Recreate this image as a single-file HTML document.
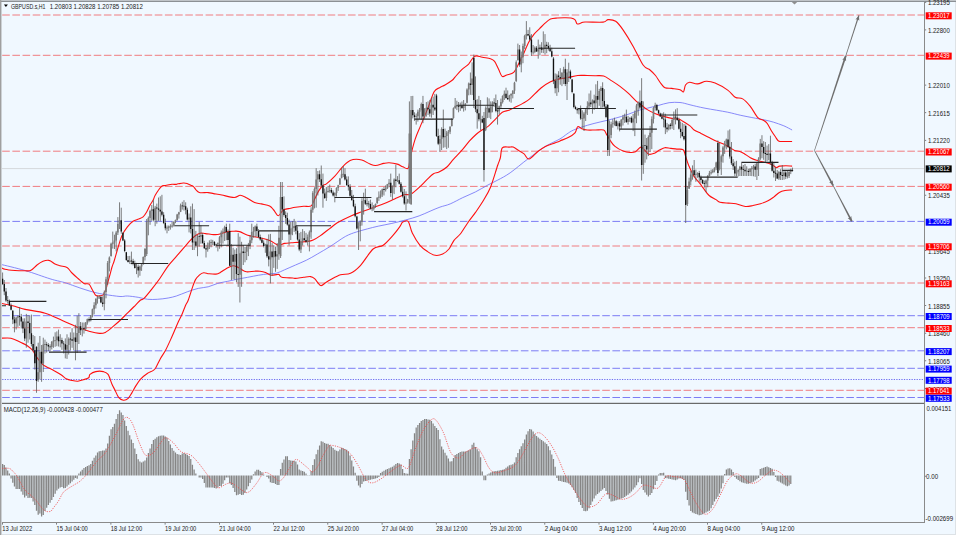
<!DOCTYPE html><html><head><meta charset="utf-8"><title>GBPUSD.s,H1</title><style>html,body{margin:0;padding:0;background:#f0f8ff;overflow:hidden;width:956px;height:535px}</style></head><body><svg width="956" height="535" viewBox="0 0 956 535" style="display:block"><rect x="0" y="0" width="956" height="535" fill="#f0f8ff"/><rect x="0" y="0" width="956" height="1" fill="#c0c4c8"/><rect x="0" y="1" width="956" height="1" fill="#8c9094"/><rect x="0" y="0" width="1.3" height="535" fill="#a0a0a0"/><rect x="1.3" y="2" width="0.7" height="533" fill="#c8ccd0"/><defs><clipPath id="cm"><rect x="2" y="2" width="922" height="400"/></clipPath><clipPath id="cd"><rect x="2" y="404" width="922" height="118"/></clipPath></defs><g clip-path="url(#cm)"><line x1="2.2" y1="15.0" x2="924" y2="15.0" stroke="#f07c80" stroke-width="1" stroke-dasharray="7.6 2.57"/><line x1="2.2" y1="55.3" x2="924" y2="55.3" stroke="#f07c80" stroke-width="1" stroke-dasharray="7.6 2.57"/><line x1="2.2" y1="151.2" x2="924" y2="151.2" stroke="#f07c80" stroke-width="1" stroke-dasharray="7.6 2.57"/><line x1="2.2" y1="186.4" x2="924" y2="186.4" stroke="#f07c80" stroke-width="1" stroke-dasharray="7.6 2.57"/><line x1="2.2" y1="246.0" x2="924" y2="246.0" stroke="#f07c80" stroke-width="1" stroke-dasharray="7.6 2.57"/><line x1="2.2" y1="283.0" x2="924" y2="283.0" stroke="#f07c80" stroke-width="1" stroke-dasharray="7.6 2.57"/><line x1="2.2" y1="327.7" x2="924" y2="327.7" stroke="#f07c80" stroke-width="1" stroke-dasharray="7.6 2.57"/><line x1="2.2" y1="390.3" x2="924" y2="390.3" stroke="#f07c80" stroke-width="1" stroke-dasharray="7.6 2.57"/><line x1="2.2" y1="221.4" x2="924" y2="221.4" stroke="#7c7cf4" stroke-width="1" stroke-dasharray="7.6 2.57"/><line x1="2.2" y1="315.7" x2="924" y2="315.7" stroke="#7c7cf4" stroke-width="1" stroke-dasharray="7.6 2.57"/><line x1="2.2" y1="350.8" x2="924" y2="350.8" stroke="#7c7cf4" stroke-width="1" stroke-dasharray="7.6 2.57"/><line x1="2.2" y1="368.3" x2="924" y2="368.3" stroke="#7c7cf4" stroke-width="1" stroke-dasharray="7.6 2.57"/><line x1="2.2" y1="397.5" x2="924" y2="397.5" stroke="#7c7cf4" stroke-width="1" stroke-dasharray="7.6 2.57"/><line x1="2.2" y1="379.5" x2="924" y2="379.5" stroke="#7070f0" stroke-width="1" stroke-dasharray="1.27 1.27"/><line x1="2" y1="168.6" x2="924" y2="168.6" stroke="#d4d8dc" stroke-width="1"/><path d="M0.0,264.2 C4.2,265.2 16.7,268.1 25.0,270.5 C33.3,272.9 43.8,276.9 50.0,278.8 C56.2,280.7 59.8,281.3 62.5,282.0 C65.2,282.7 64.4,282.5 66.5,283.2 C68.6,283.9 71.9,285.1 75.0,286.2 C78.1,287.3 81.7,288.6 85.0,289.6 C88.3,290.7 91.7,291.7 95.0,292.5 C98.3,293.3 100.8,293.8 105.0,294.5 C109.2,295.2 116.3,296.2 120.0,296.5 C123.7,296.8 124.3,295.9 127.3,296.0 C130.3,296.1 134.8,296.8 138.2,297.3 C141.6,297.9 144.5,299.0 147.7,299.3 C150.9,299.6 153.9,299.5 157.3,299.3 C160.7,299.1 165.0,298.6 168.2,298.0 C171.4,297.4 173.2,297.0 176.4,296.0 C179.6,295.0 183.7,293.1 187.3,291.8 C190.9,290.5 194.7,289.2 198.2,288.4 C201.7,287.6 204.9,287.6 208.2,286.8 C211.4,286.0 214.5,284.3 217.7,283.4 C220.9,282.5 224.1,282.1 227.3,281.4 C230.5,280.7 233.4,280.0 236.8,279.3 C240.2,278.6 244.0,278.0 247.7,277.3 C251.3,276.6 255.3,275.8 258.7,275.2 C262.1,274.6 265.2,274.2 268.2,273.9 C271.1,273.6 273.7,273.9 276.4,273.2 C279.1,272.5 281.4,271.2 284.6,269.8 C287.8,268.4 291.9,266.6 295.5,265.0 C299.1,263.4 302.8,262.0 306.4,260.2 C310.0,258.4 313.4,256.4 317.3,254.1 C321.2,251.8 325.3,249.5 330.0,246.6 C334.7,243.7 341.1,238.8 345.5,236.4 C349.9,234.0 352.8,233.2 356.4,232.0 C360.0,230.8 363.7,229.9 367.3,228.9 C370.9,227.9 374.1,227.1 378.2,226.2 C382.3,225.3 387.3,224.4 391.9,223.4 C396.4,222.4 401.0,221.2 405.5,220.0 C410.0,218.8 415.0,217.4 419.1,215.9 C423.2,214.4 426.6,212.7 430.1,211.2 C433.6,209.7 436.6,208.3 440.0,207.1 C443.4,205.9 446.4,205.5 450.2,203.9 C454.0,202.3 458.6,199.6 462.8,197.6 C467.0,195.6 471.1,194.1 475.3,192.0 C479.5,189.9 484.1,187.0 487.9,185.0 C491.7,183.0 494.2,182.0 497.9,180.0 C501.6,178.0 505.2,176.3 510.2,172.8 C515.2,169.3 521.9,163.4 527.8,159.0 C533.7,154.6 540.0,149.8 545.4,146.4 C550.8,143.1 556.4,141.0 560.0,138.9 C563.6,136.8 564.5,135.6 566.8,134.1 C569.1,132.6 570.2,131.5 573.6,130.0 C577.0,128.5 582.8,126.7 587.3,125.3 C591.8,123.9 596.3,122.9 600.9,121.8 C605.5,120.7 610.0,119.7 614.6,118.4 C619.2,117.2 624.1,115.7 628.2,114.3 C632.3,112.9 635.9,111.2 639.1,110.2 C642.3,109.2 644.1,109.0 647.3,108.2 C650.5,107.4 654.6,106.4 658.2,105.5 C661.8,104.6 665.5,103.2 669.1,102.7 C672.7,102.2 676.5,102.2 680.0,102.5 C683.5,102.8 685.8,103.8 690.0,104.8 C694.2,105.8 698.7,107.0 705.0,108.2 C711.3,109.4 721.8,111.0 727.7,112.2 C733.6,113.4 735.6,114.2 740.2,115.2 C744.8,116.2 751.2,117.4 755.3,118.2 C759.4,119.0 761.9,119.3 764.9,120.0 C767.9,120.7 770.1,121.1 773.3,122.1 C776.4,123.1 780.7,124.5 783.8,125.8 C786.9,127.1 790.7,129.3 792.1,130.0" fill="none" stroke="#6c6cf8" stroke-width="0.8"/><path d="M0.0,266.9 C0.8,267.3 2.5,268.6 5.0,269.2 C7.5,269.8 11.7,270.2 15.0,270.5 C18.3,270.8 22.3,270.8 25.0,270.8 C27.7,270.8 29.0,271.3 31.0,270.3 C33.0,269.3 35.0,266.5 37.0,265.0 C39.0,263.5 41.0,262.1 43.0,261.3 C45.0,260.5 47.0,259.9 49.0,260.4 C51.0,260.8 53.2,263.1 55.0,264.0 C56.8,264.9 58.0,265.2 60.0,265.8 C62.0,266.4 65.0,266.3 67.0,267.5 C69.0,268.7 70.2,271.2 72.0,273.0 C73.8,274.8 76.3,277.0 78.0,278.5 C79.7,280.0 80.9,281.1 82.0,282.0 C83.1,282.9 83.3,283.4 84.5,283.8 C85.7,284.2 87.6,283.0 89.0,284.2 C90.4,285.4 91.8,289.1 93.0,291.0 C94.2,292.9 94.8,294.7 96.0,295.5 C97.2,296.3 98.8,296.0 100.0,295.8 C101.2,295.6 102.5,295.6 103.5,294.5 C104.5,293.4 105.3,290.9 106.0,289.0 C106.7,287.1 106.8,285.8 107.5,283.4 C108.2,281.0 109.2,277.2 110.0,274.5 C110.8,271.8 111.3,269.3 112.0,267.0 C112.7,264.7 113.2,264.0 114.3,260.5 C115.4,257.0 117.2,250.1 118.5,246.0 C119.8,241.9 120.3,239.1 121.8,235.9 C123.3,232.7 125.5,229.3 127.4,226.9 C129.3,224.5 131.1,222.6 133.0,221.3 C134.9,220.0 136.9,219.8 138.6,219.1 C140.3,218.3 141.8,217.9 143.1,216.8 C144.4,215.7 145.4,214.2 146.5,212.3 C147.6,210.4 148.7,207.7 149.8,205.6 C150.9,203.5 152.3,201.7 153.2,200.0 C154.1,198.3 153.9,197.4 155.2,195.2 C156.5,193.0 159.4,188.4 161.1,186.8 C162.8,185.2 163.5,185.9 165.3,185.5 C167.1,185.1 170.3,184.5 172.0,184.3 C173.7,184.1 174.7,184.5 175.7,184.4 C176.7,184.3 176.7,184.0 178.0,183.8 C179.3,183.6 181.9,183.1 183.4,183.0 C184.9,182.9 185.8,183.1 187.0,183.5 C188.2,183.9 189.7,184.7 190.8,185.2 C191.9,185.7 192.6,185.8 193.5,186.6 C194.4,187.4 195.0,188.8 196.0,189.8 C197.0,190.8 197.3,192.0 199.3,192.5 C201.3,193.0 205.8,192.4 208.2,192.6 C210.6,192.8 211.3,193.2 213.6,193.6 C215.9,194.0 218.4,194.3 221.8,195.0 C225.2,195.7 231.0,197.4 234.1,197.5 C237.2,197.6 238.1,195.3 240.2,195.3 C242.2,195.3 244.0,196.5 246.4,197.7 C248.8,198.9 252.1,201.5 254.6,202.5 C257.1,203.5 258.9,203.3 261.4,203.9 C263.9,204.5 267.6,204.9 269.6,205.9 C271.7,206.9 272.2,208.4 273.7,210.0 C275.2,211.6 276.8,215.7 278.4,215.7 C280.0,215.7 281.5,211.2 283.2,210.0 C284.9,208.8 286.6,209.0 288.7,208.6 C290.8,208.2 293.0,207.7 295.5,207.3 C298.0,206.9 301.1,206.5 303.7,206.3 C306.3,206.1 309.4,207.1 311.2,205.9 C313.0,204.7 313.4,201.6 314.6,199.1 C315.9,196.6 317.3,193.2 318.7,190.9 C320.1,188.6 321.5,186.7 322.8,185.5 C324.1,184.3 324.4,185.4 326.4,183.9 C328.4,182.4 332.1,179.0 334.6,176.4 C337.1,173.8 339.4,170.5 341.4,168.2 C343.4,165.9 344.9,164.1 346.8,162.7 C348.7,161.2 350.5,159.9 353.0,159.5 C355.5,159.1 359.0,159.2 361.8,160.0 C364.6,160.8 367.7,163.2 370.0,164.1 C372.3,165.0 373.2,165.6 375.5,165.5 C377.8,165.4 381.4,163.9 383.7,163.4 C386.0,162.9 386.8,162.6 389.1,162.7 C391.4,162.8 395.0,163.4 397.3,164.1 C399.6,164.8 401.0,166.1 402.8,166.8 C404.6,167.5 407.0,169.7 408.2,168.2 C409.4,166.7 409.1,162.8 410.2,158.0 C411.3,153.2 413.3,144.9 415.0,139.6 C416.7,134.2 418.4,130.9 420.5,125.9 C422.6,120.9 425.0,115.3 427.3,109.6 C429.6,103.9 432.1,95.4 434.1,91.8 C436.2,88.2 437.8,88.8 439.6,87.7 C441.4,86.6 442.9,86.2 445.0,85.0 C447.1,83.8 450.5,81.6 452.2,80.3 C453.9,79.0 453.4,78.9 455.0,77.1 C456.6,75.3 459.5,71.8 461.8,69.6 C464.1,67.4 466.7,66.1 468.6,64.1 C470.5,62.0 472.0,58.7 473.4,57.3 C474.8,55.9 475.3,55.9 476.8,55.9 C478.3,55.9 480.0,56.8 482.3,57.3 C484.6,57.8 488.4,58.0 490.5,58.7 C492.6,59.4 493.2,59.6 494.6,61.4 C496.0,63.2 497.4,67.1 498.7,69.6 C499.9,72.1 500.8,75.5 502.1,76.4 C503.5,77.3 504.9,75.7 506.8,75.0 C508.7,74.3 511.9,73.9 513.7,72.3 C515.5,70.7 516.2,68.5 517.8,65.5 C519.4,62.5 521.4,58.5 523.2,54.6 C525.0,50.7 526.9,45.7 528.7,42.3 C530.5,38.9 532.3,36.4 534.1,34.1 C535.9,31.8 537.8,30.4 539.6,28.6 C541.4,26.8 543.2,24.8 545.0,23.2 C546.8,21.6 548.5,20.0 550.5,19.1 C552.5,18.2 555.0,18.2 557.3,18.0 C559.6,17.8 561.8,17.7 564.1,17.7 C566.4,17.7 569.2,17.6 571.0,18.0 C572.8,18.4 574.1,18.8 575.1,19.8 C576.1,20.8 576.2,23.3 577.1,23.9 C578.0,24.5 579.2,23.5 580.5,23.2 C581.8,22.9 581.2,22.2 585.0,22.0 C588.8,21.8 599.2,22.5 603.1,22.1 C607.0,21.7 606.0,19.7 608.1,19.6 C610.2,19.5 613.2,19.6 615.7,21.3 C618.2,23.1 620.3,25.9 623.2,30.1 C626.1,34.3 629.9,40.5 633.2,46.4 C636.6,52.3 640.5,61.4 643.3,65.3 C646.1,69.2 648.0,68.3 650.0,70.0 C652.0,71.7 653.7,73.2 655.5,75.5 C657.3,77.8 659.4,81.6 661.0,83.6 C662.6,85.6 663.2,86.9 665.0,87.7 C666.8,88.5 669.4,88.1 671.9,88.4 C674.4,88.8 678.1,89.2 680.0,89.8 C681.9,90.4 682.6,92.6 683.5,91.8 C684.4,91.0 684.5,86.6 685.5,85.0 C686.5,83.4 687.6,82.5 689.6,82.3 C691.6,82.1 694.7,84.1 697.5,83.9 C700.3,83.7 703.4,81.4 706.3,81.3 C709.2,81.2 711.5,81.6 715.1,83.1 C718.7,84.6 724.4,87.8 727.7,90.1 C731.1,92.4 732.7,95.7 735.2,97.2 C737.7,98.7 740.2,97.4 742.7,98.9 C745.2,100.4 747.8,103.3 750.3,106.4 C752.8,109.5 755.7,115.4 757.8,117.7 C759.9,120.0 761.3,119.1 762.8,120.0 C764.3,120.9 765.6,121.3 767.0,123.1 C768.4,124.8 769.8,128.2 771.2,130.5 C772.6,132.8 774.2,135.1 775.4,136.8 C776.6,138.5 777.1,140.1 778.5,140.9 C779.9,141.7 781.5,141.4 783.8,141.5 C786.1,141.6 790.7,141.5 792.1,141.5" fill="none" stroke="#ff1010" stroke-width="1.1"/><path d="M0.0,303.1 C2.1,303.5 8.4,304.6 12.6,305.7 C16.8,306.8 19.7,308.1 25.1,309.4 C30.5,310.6 38.9,311.3 45.2,313.2 C51.5,315.1 56.9,318.2 62.8,320.7 C68.6,323.2 75.8,326.5 80.3,328.3 C84.8,330.1 86.8,330.6 90.0,331.5 C93.2,332.4 97.0,333.2 99.5,333.4 C102.0,333.5 103.1,333.5 105.3,332.4 C107.5,331.3 110.4,328.8 112.9,326.7 C115.4,324.6 118.0,322.4 120.5,320.0 C123.0,317.6 125.6,314.9 128.2,312.4 C130.8,309.9 133.7,306.9 135.8,304.8 C137.9,302.7 139.3,301.0 140.6,300.0 C141.9,299.0 141.8,300.5 143.7,298.7 C145.6,296.9 149.1,292.5 151.8,289.1 C154.5,285.7 157.3,282.1 160.0,278.2 C162.7,274.3 165.5,269.5 168.2,265.9 C170.9,262.3 173.7,259.6 176.4,256.4 C179.1,253.2 182.3,249.4 184.6,246.8 C186.9,244.2 188.3,242.5 190.0,240.7 C191.7,238.9 193.3,237.2 195.0,236.0 C196.7,234.8 198.2,233.6 200.0,233.2 C201.8,232.8 203.2,233.4 205.5,233.6 C207.8,233.8 211.3,234.5 213.6,234.6 C215.9,234.7 216.8,234.8 219.1,234.3 C221.4,233.8 224.8,232.1 227.3,231.6 C229.8,231.1 232.1,231.2 234.1,231.2 C236.1,231.2 237.3,230.9 239.6,231.6 C241.9,232.3 244.8,234.4 247.7,235.3 C250.6,236.2 254.6,236.7 257.3,237.3 C260.0,237.9 261.8,238.1 264.1,238.7 C266.4,239.3 268.5,240.0 270.9,241.1 C273.3,242.2 276.1,244.8 278.4,245.2 C280.7,245.6 282.4,243.8 284.6,243.4 C286.8,243.0 288.9,243.0 291.4,242.8 C293.9,242.6 296.9,242.3 299.6,242.1 C302.3,241.9 305.5,241.8 307.8,241.4 C310.1,241.1 311.1,240.9 313.2,240.0 C315.2,239.1 318.1,237.3 320.1,235.9 C322.2,234.5 323.9,233.1 325.5,231.8 C327.1,230.6 328.0,229.9 330.0,228.4 C332.0,226.9 333.8,224.9 337.3,222.8 C340.8,220.7 346.8,217.7 350.9,215.9 C355.0,214.1 358.1,213.2 361.8,211.8 C365.5,210.4 369.2,209.0 372.8,207.7 C376.4,206.3 380.1,205.2 383.7,203.7 C387.3,202.2 391.2,200.4 394.6,198.9 C398.0,197.4 401.4,195.6 404.1,194.8 C406.8,194.0 408.4,195.5 411.0,194.1 C413.6,192.7 417.4,189.0 420.0,186.6 C422.6,184.2 424.4,182.1 426.7,179.9 C428.9,177.8 431.4,175.0 433.5,173.7 C435.6,172.4 436.8,173.1 439.0,172.0 C441.2,170.9 444.5,169.2 446.9,167.0 C449.3,164.8 451.2,161.8 453.6,159.1 C456.0,156.4 458.9,153.7 461.5,150.7 C464.1,147.7 466.9,143.9 469.3,141.2 C471.7,138.5 473.9,136.4 476.0,134.5 C478.1,132.6 479.8,131.4 481.9,130.0 C484.0,128.6 486.4,127.7 488.7,125.9 C491.0,124.1 493.2,121.4 495.5,119.1 C497.8,116.8 500.0,113.8 502.3,112.3 C504.6,110.8 506.8,111.1 509.1,110.2 C511.4,109.3 513.7,107.9 516.0,106.8 C518.3,105.7 520.5,104.8 522.8,103.4 C525.1,102.0 527.0,101.2 530.0,98.6 C533.0,96.0 537.6,90.8 541.0,88.0 C544.4,85.2 547.5,83.3 550.5,81.8 C553.5,80.3 556.0,79.8 558.7,79.1 C561.4,78.4 563.7,78.4 566.9,77.8 C570.1,77.2 574.3,75.9 577.7,75.5 C581.1,75.1 584.3,75.5 587.3,75.5 C590.3,75.5 592.8,75.6 595.5,75.7 C598.2,75.8 601.0,75.2 603.7,76.1 C606.4,77.0 609.1,79.2 611.8,80.9 C614.5,82.6 617.3,84.4 620.0,86.4 C622.7,88.5 625.5,90.7 628.2,93.2 C630.9,95.7 634.1,99.4 636.4,101.4 C638.7,103.5 640.1,104.1 641.9,105.5 C643.7,106.9 645.0,108.2 647.3,109.6 C649.6,111.0 652.8,112.6 655.5,113.7 C658.2,114.8 661.0,115.6 663.7,116.4 C666.4,117.2 669.4,118.0 671.9,118.4 C674.4,118.9 676.9,118.6 678.7,119.1 C680.5,119.6 680.9,120.1 682.8,121.2 C684.7,122.3 688.1,124.4 690.0,125.9 C691.9,127.4 692.3,128.8 694.1,130.0 C695.9,131.2 698.5,132.2 701.0,133.4 C703.5,134.7 706.4,136.1 709.1,137.5 C711.8,138.9 714.8,140.5 717.3,141.6 C719.8,142.7 722.1,143.4 724.1,144.3 C726.1,145.2 727.5,146.2 729.3,147.2 C731.0,148.2 732.9,149.7 734.6,150.4 C736.4,151.1 738.2,150.9 739.8,151.4 C741.4,151.9 742.2,152.4 744.0,153.5 C745.8,154.6 748.2,156.6 750.3,157.7 C752.4,158.8 754.4,159.6 756.5,160.3 C758.6,161.0 760.7,161.4 762.8,161.9 C764.9,162.4 767.4,162.9 769.1,163.5 C770.9,164.1 772.1,164.8 773.3,165.5 C774.5,166.2 775.3,167.5 776.4,167.6 C777.5,167.7 778.0,166.4 779.6,166.1 C781.2,165.8 783.8,165.8 785.9,165.8 C788.0,165.8 791.1,166.1 792.1,166.1" fill="none" stroke="#ff1010" stroke-width="1.1"/><path d="M0.0,338.3 C1.8,338.3 7.5,337.5 10.9,338.2 C14.3,338.9 17.8,341.1 20.5,342.3 C23.2,343.6 25.3,344.3 27.3,345.7 C29.3,347.1 31.1,348.6 32.7,350.5 C34.3,352.4 35.2,355.0 36.8,357.3 C38.4,359.6 40.5,362.4 42.3,364.1 C44.1,365.8 45.7,366.4 47.7,367.5 C49.8,368.6 52.3,369.6 54.6,370.9 C56.9,372.1 59.4,373.6 61.4,375.0 C63.4,376.4 65.0,378.2 66.8,379.1 C68.6,380.0 70.5,380.1 72.3,380.5 C74.1,380.9 76.0,381.3 77.8,381.2 C79.6,381.1 81.4,380.4 83.2,379.8 C85.0,379.2 87.6,378.6 88.7,377.7 C89.8,376.8 88.8,375.4 90.0,374.4 C91.2,373.4 93.5,372.1 95.7,371.6 C97.9,371.1 101.3,371.1 103.4,371.6 C105.5,372.1 106.7,372.3 108.1,374.4 C109.5,376.5 110.8,381.4 111.9,384.0 C113.0,386.6 113.7,387.5 114.8,389.7 C115.9,391.9 117.2,395.6 118.6,397.3 C120.0,399.1 121.8,400.0 123.4,400.2 C125.0,400.4 126.8,399.6 128.2,398.3 C129.6,397.0 130.7,394.7 132.0,392.6 C133.3,390.5 134.4,388.1 135.8,385.9 C137.2,383.7 138.7,381.3 140.6,379.2 C142.5,377.1 145.2,374.9 147.3,373.5 C149.4,372.1 151.6,371.6 153.0,370.6 C154.4,369.6 154.5,369.8 155.8,367.7 C157.1,365.6 159.0,361.0 160.6,358.2 C162.2,355.4 163.5,354.2 165.4,350.6 C167.3,347.0 170.0,340.9 172.1,336.3 C174.2,331.7 176.2,326.4 177.8,322.9 C179.4,319.4 180.3,318.2 181.6,315.3 C182.9,312.4 184.3,308.2 185.4,305.7 C186.5,303.1 187.1,303.2 188.3,300.0 C189.5,296.8 191.6,289.8 192.8,286.4 C194.0,283.0 194.4,281.5 195.5,279.6 C196.6,277.7 198.2,276.0 199.6,274.8 C201.0,273.6 202.1,272.9 203.7,272.7 C205.3,272.5 207.0,273.6 209.1,273.8 C211.2,274.0 214.2,274.3 216.0,274.1 C217.8,273.9 218.7,273.4 220.0,272.7 C221.3,272.0 222.6,270.9 224.1,270.0 C225.6,269.1 227.3,268.0 228.9,267.3 C230.5,266.6 232.0,265.7 233.4,265.7 C234.8,265.7 236.2,266.5 237.5,267.1 C238.8,267.7 239.4,268.3 240.9,269.1 C242.4,269.9 244.1,271.5 246.4,271.8 C248.7,272.1 252.3,271.3 254.6,271.2 C256.9,271.1 258.2,271.0 260.0,271.2 C261.8,271.4 263.7,271.8 265.5,272.5 C267.3,273.2 269.1,274.8 270.9,275.2 C272.7,275.6 275.0,274.7 276.4,274.6 C277.8,274.5 278.2,274.2 279.1,274.6 C280.0,275.1 279.6,276.7 281.9,277.3 C284.2,277.9 290.5,277.8 292.8,278.0 C295.1,278.2 293.7,278.5 295.5,278.4 C297.3,278.3 301.2,277.6 303.7,277.3 C306.2,277.0 308.7,276.4 310.5,276.6 C312.3,276.8 312.9,277.2 314.6,278.7 C316.3,280.2 318.9,284.8 320.7,285.5 C322.5,286.2 323.9,283.6 325.5,282.7 C327.1,281.8 327.5,281.3 330.0,280.0 C332.5,278.7 337.1,275.9 340.5,274.8 C343.9,273.7 347.1,274.9 350.5,273.3 C353.9,271.7 356.8,269.4 360.6,265.3 C364.4,261.2 369.3,252.3 373.1,249.0 C376.9,245.7 379.9,247.5 383.2,245.2 C386.5,242.9 390.4,238.2 393.2,235.1 C396.0,232.0 398.4,228.6 400.0,226.4 C401.6,224.2 401.4,222.9 402.8,222.1 C404.2,221.3 406.6,219.6 408.2,221.4 C409.8,223.2 410.3,229.0 412.3,233.0 C414.3,237.0 417.4,242.2 420.0,245.3 C422.6,248.4 425.1,249.9 427.6,251.6 C430.1,253.3 432.6,254.9 435.1,255.3 C437.6,255.7 440.4,255.1 442.7,254.0 C445.0,252.9 447.1,251.3 449.0,249.0 C450.9,246.7 452.1,242.8 454.0,240.3 C455.9,237.8 458.0,236.9 460.3,234.0 C462.6,231.1 465.3,226.3 467.8,222.7 C470.3,219.1 472.8,216.2 475.3,212.6 C477.8,209.0 480.4,205.5 482.9,201.3 C485.4,197.1 487.9,193.5 490.4,187.5 C492.9,181.5 496.0,170.2 497.7,165.3 C499.4,160.4 499.5,160.9 500.3,158.0 C501.1,155.1 500.8,149.6 502.3,147.8 C503.8,146.0 507.3,147.2 509.1,147.1 C510.9,147.0 511.6,146.5 513.2,147.1 C514.8,147.7 516.9,149.4 518.7,150.5 C520.5,151.6 522.4,152.5 524.1,153.9 C525.8,155.3 526.7,159.4 529.0,159.0 C531.3,158.6 535.1,153.6 537.8,151.5 C540.5,149.4 542.5,147.9 545.4,146.4 C548.3,144.9 553.0,143.6 555.4,142.7 C557.8,141.8 557.9,141.8 560.0,140.9 C562.1,140.0 565.7,138.8 568.2,137.5 C570.7,136.2 573.4,134.6 575.0,132.8 C576.6,131.0 576.6,127.3 577.7,126.6 C578.8,125.9 580.2,128.1 581.8,128.7 C583.4,129.3 585.0,129.8 587.3,130.0 C589.6,130.2 592.8,130.0 595.5,130.0 C598.2,130.0 601.9,129.3 603.7,130.0 C605.5,130.7 605.3,132.3 606.4,134.1 C607.5,135.9 609.1,138.8 610.5,140.9 C611.9,143.0 612.9,144.7 615.0,146.4 C617.1,148.1 620.7,150.1 623.2,151.1 C625.7,152.1 628.0,152.4 630.0,152.5 C632.0,152.6 633.7,152.7 635.5,151.8 C637.3,150.9 639.3,147.3 640.9,147.1 C642.5,146.9 643.6,149.3 645.0,150.5 C646.4,151.7 647.5,153.9 649.1,154.3 C650.7,154.8 652.8,153.9 654.6,153.2 C656.4,152.4 658.3,150.7 660.0,149.8 C661.7,148.9 663.0,147.9 664.8,147.7 C666.6,147.5 668.7,148.2 670.9,148.4 C673.1,148.6 675.8,148.9 677.8,149.1 C679.8,149.3 682.0,148.8 683.2,149.8 C684.5,150.8 684.4,152.6 685.3,155.2 C686.2,157.8 687.2,162.0 688.7,165.5 C690.2,169.0 692.3,173.5 694.1,176.4 C695.9,179.3 698.0,181.1 699.6,183.2 C701.2,185.2 702.1,186.6 703.7,188.7 C705.3,190.8 707.1,193.7 709.1,195.5 C711.1,197.3 714.2,198.5 716.0,199.6 C717.8,200.7 717.9,201.7 720.0,202.3 C722.1,202.9 725.8,202.9 728.5,203.1 C731.2,203.3 733.2,203.1 736.0,203.7 C738.8,204.3 742.6,206.2 745.4,206.5 C748.2,206.8 750.5,206.0 753.0,205.5 C755.5,205.0 758.0,204.5 760.5,203.7 C763.0,202.9 765.8,201.9 768.0,200.8 C770.2,199.7 771.8,198.5 773.7,197.1 C775.6,195.7 777.4,193.5 779.3,192.4 C781.2,191.3 782.9,190.9 785.0,190.5 C787.1,190.1 790.9,190.1 792.1,190.0" fill="none" stroke="#ff1010" stroke-width="1.1"/><path d="M2.60,272.5V285.0M4.29,280.0V295.2M5.99,288.0V301.9M7.69,296.0V303.6M9.38,299.5V306.0M11.07,303.5V310.4M12.77,310.1V324.1M14.46,316.6V332.3M16.16,316.7V329.5M17.86,315.3V326.9M19.55,307.0V325.7M21.25,313.9V328.4M22.94,318.4V333.1M24.64,318.3V341.1M26.33,313.9V347.7M28.03,315.0V342.7M29.72,315.7V339.5M31.42,314.6V346.4M33.11,335.0V351.5M34.80,336.1V369.6M36.50,346.0V392.8M38.20,342.7V381.8M39.89,336.0V379.4M41.59,345.0V381.8M43.28,337.7V372.0M44.98,339.6V353.5M46.67,341.8V352.6M48.37,343.1V351.2M50.06,344.3V350.7M51.76,341.1V349.4M53.45,336.6V347.8M55.15,332.3V346.8M56.84,331.4V346.2M58.54,329.6V346.5M60.23,334.2V347.3M61.93,337.7V349.8M63.62,341.1V353.4M65.31,338.4V358.4M67.01,334.3V358.9M68.70,337.4V354.5M70.40,332.4V350.3M72.09,328.2V347.8M73.79,332.5V350.0M75.48,324.8V360.3M77.18,315.7V353.0M78.88,313.2V344.0M80.57,322.0V335.0M82.27,322.5V336.4M83.96,322.5V333.6M85.66,322.0V331.0M87.35,318.6V324.7M89.05,317.3V322.2M90.74,315.0V321.4M92.44,308.6V317.4M94.13,302.2V314.3M95.83,298.2V308.5M97.52,295.5V303.6M99.22,295.5V299.0M100.91,295.5V303.2M102.61,296.5V306.8M104.30,290.5V310.3M106.00,276.8V298.3M107.69,261.0V285.0M109.39,256.4V271.4M111.08,242.7V256.7M112.77,231.6V248.6M114.47,234.7V249.0M116.16,230.9V251.4M117.86,217.1V235.0M119.55,202.3V229.0M121.25,207.7V233.7M122.94,232.3V241.1M124.64,239.1V252.2M126.33,251.9V260.9M128.03,256.0V262.5M129.72,255.9V263.9M131.42,251.6V264.3M133.12,258.8V265.4M134.81,260.7V268.6M136.50,262.9V274.1M138.20,264.6V277.5M139.90,265.6V275.8M141.59,263.9V270.9M143.28,256.4V264.6M144.98,248.0V260.5M146.68,219.0V256.0M148.37,216.5V235.3M150.06,209.8V224.8M151.76,205.0V220.8M153.46,200.2V221.4M155.15,205.9V226.2M156.84,203.6V223.7M158.54,197.5V220.9M160.24,196.3V221.4M161.93,194.8V216.4M163.62,212.2V224.1M165.32,218.6V230.4M167.01,225.5V233.3M168.71,225.5V230.9M170.41,224.3V229.6M172.10,221.4V227.7M173.79,221.4V226.6M175.49,219.6V223.2M177.19,213.8V220.7M178.88,211.8V218.6M180.57,203.6V212.1M182.27,201.8V209.6M183.97,200.2V210.6M185.66,202.3V214.4M187.35,207.7V220.5M189.05,213.5V232.4M190.75,206.3V233.4M192.44,203.6V250.0M194.13,209.1V250.0M195.83,230.9V247.6M197.53,234.8V256.2M199.22,222.0V246.7M200.91,225.2V243.7M202.61,233.0V243.9M204.31,240.8V248.9M206.00,244.8V257.5M207.69,242.5V251.7M209.39,240.3V249.0M211.09,239.5V247.3M212.78,239.9V245.0M214.47,241.0V245.8M216.17,243.7V247.6M217.87,242.4V251.4M219.56,236.1V248.8M221.25,230.5V247.3M222.95,228.5V243.6M224.65,225.7V241.0M226.34,223.7V240.2M228.03,229.5V245.9M229.73,223.7V266.0M231.43,244.1V280.0M233.12,247.8V279.2M234.81,249.6V279.6M236.51,248.2V282.2M238.21,233.2V286.9M239.90,236.7V302.5M241.59,241.8V286.8M243.29,245.1V265.0M244.99,246.8V262.3M246.68,246.0V260.1M248.38,242.9V256.1M250.07,235.3V249.1M251.77,223.7V243.2M253.46,226.9V237.7M255.16,225.5V237.1M256.85,223.7V236.5M258.55,229.1V238.3M260.24,234.6V240.8M261.94,237.4V243.3M263.63,240.4V247.4M265.33,243.8V252.8M267.02,238.8V257.8M268.72,234.4V266.4M270.41,233.9V283.4M272.11,243.1V275.9M273.80,245.3V267.9M275.50,246.6V271.8M277.19,243.0V268.9M278.89,225.8V259.8M280.58,182.0V258.0M282.28,182.0V240.0M283.97,196.4V216.7M285.67,211.4V223.9M287.36,212.7V225.6M289.06,219.6V245.5M290.75,221.8V240.0M292.45,221.0V235.2M294.14,218.9V231.9M295.84,220.9V234.3M297.53,226.4V240.6M299.23,233.1V251.2M300.92,231.9V253.0M302.62,229.1V245.5M304.31,231.1V241.0M306.01,232.8V242.8M307.70,234.5V245.5M309.40,230.5V251.4M311.09,207.3V238.8M312.79,191.2V212.7M314.48,187.3V208.4M316.18,168.2V207.7M317.87,171.0V195.5M319.57,170.4V182.0M321.26,165.5V187.3M322.96,173.6V207.7M324.65,188.6V198.9M326.35,187.1V200.9M328.04,186.3V192.7M329.74,184.6V192.7M331.43,187.9V193.4M333.13,190.5V196.5M334.82,192.3V202.3M336.52,187.3V196.5M338.21,184.8V190.9M339.91,177.9V184.9M341.60,168.0V178.4M343.30,166.1V177.2M344.99,168.2V180.6M346.69,176.4V185.9M348.38,176.4V190.6M350.08,184.1V196.8M351.77,190.0V200.9M353.47,194.9V207.2M355.16,203.7V217.4M356.86,215.7V229.6M358.55,222.2V250.0M360.25,220.4V241.3M361.94,198.2V225.6M363.64,192.7V214.6M365.33,188.6V205.0M367.03,198.2V206.4M368.72,200.9V207.8M370.42,199.6V209.5M372.11,202.4V211.2M373.81,205.1V210.6M375.50,203.5V207.8M377.20,197.2V203.7M378.89,191.4V200.9M380.59,190.4V198.5M382.28,188.6V196.9M383.98,186.9V195.5M385.67,185.4V191.5M387.37,183.9V189.0M389.06,179.1V187.3M390.76,173.6V196.8M392.45,185.4V199.6M394.15,178.4V194.1M395.84,164.8V187.3M397.54,176.1V182.1M399.23,173.6V184.6M400.93,182.0V192.7M402.62,186.2V197.5M404.32,189.0V204.8M406.01,191.4V210.5M407.71,198.8V203.7M409.40,101.4V203.7M411.10,96.0V205.0M412.79,95.9V118.4M414.49,112.3V120.9M416.18,113.5V124.6M417.88,109.6V121.6M419.57,108.0V118.9M421.27,102.6V119.8M422.96,95.9V123.2M424.66,108.0V118.8M426.35,102.1V116.6M428.05,101.4V115.0M429.74,99.9V116.7M431.44,98.1V117.7M433.13,96.6V115.0M434.83,93.9V110.9M436.52,93.9V137.0M438.22,128.7V145.1M439.91,135.3V151.8M441.61,127.3V150.0M443.30,109.6V147.8M445.00,128.6V147.3M446.69,130.9V149.1M448.39,130.0V147.8M450.08,126.2V134.1M451.78,118.3V126.5M453.47,107.4V118.6M455.17,98.0V108.7M456.86,100.7V110.1M458.56,102.0V112.3M460.25,102.6V110.9M461.95,101.5V109.0M463.64,100.0V111.6M465.34,103.1V110.4M467.03,88.3V103.4M468.73,82.5V95.3M470.42,72.5V94.8M472.12,62.4V95.1M473.81,54.6V108.0M475.51,76.4V112.1M477.20,99.2V128.7M478.90,95.9V121.3M480.59,100.0V130.0M482.29,115.8V123.2M483.98,112.0V181.6M485.68,106.3V131.1M487.37,97.3V118.1M489.07,98.4V117.8M490.76,101.4V119.1M492.46,101.3V112.3M494.15,98.2V106.9M495.85,94.5V112.3M497.54,100.0V124.6M499.24,105.6V114.4M500.93,98.6V108.6M502.63,95.3V103.5M504.32,90.5V100.0M506.02,87.7V98.8M507.71,90.4V100.0M509.41,94.8V101.6M511.10,93.2V102.7M512.79,90.2V98.4M514.49,81.8V93.9M516.19,60.4V82.1M517.88,43.6V60.7M519.58,45.0V66.8M521.27,51.5V72.3M522.97,43.6V63.2M524.66,34.8V49.1M526.36,21.1V39.5M528.05,29.9V36.3M529.75,27.3V40.5M531.44,34.1V55.9M533.13,45.0V54.5M534.83,46.4V53.2M536.53,46.1V51.8M538.22,39.6V58.7M539.92,44.6V55.4M541.61,42.2V52.8M543.31,31.4V53.1M545.00,34.1V54.6M546.70,41.8V53.2M548.39,42.3V50.6M550.09,44.8V51.8M551.78,47.7V57.3M553.48,57.0V84.1M555.17,73.4V93.3M556.87,73.8V95.9M558.56,71.2V92.3M560.25,68.2V84.7M561.95,72.0V86.1M563.65,66.8V84.1M565.34,58.7V86.1M567.04,69.1V100.0M568.73,62.7V82.0M570.43,69.7V79.2M572.12,78.9V93.3M573.82,93.0V108.3M575.51,105.7V109.6M577.21,107.6V113.7M578.90,108.1V114.4M580.60,105.5V119.8M582.29,110.3V128.4M583.99,111.9V131.0M585.68,108.6V121.0M587.38,101.3V115.0M589.07,93.5V109.6M590.77,90.5V107.0M592.46,99.4V113.7M594.16,94.7V109.9M595.85,84.3V108.2M597.55,80.9V108.2M599.24,88.9V105.8M600.94,86.3V108.2M602.63,82.3V107.5M604.33,89.1V108.1M606.02,104.1V118.2M607.72,104.0V156.0M609.41,120.5V155.9M611.11,121.7V138.2M612.80,119.1V127.7M614.50,117.7V125.6M616.19,119.9V126.4M617.88,121.3V129.5M619.58,121.2V131.4M621.28,119.0V128.9M622.97,114.9V125.5M624.67,113.7V122.9M626.36,109.6V123.0M628.06,115.9V124.6M629.75,117.4V121.9M631.45,116.2V123.2M633.14,113.9V131.1M634.84,110.5V136.1M636.53,103.9V123.2M638.23,101.4V115.7M639.92,90.5V109.1M641.62,78.2V180.5M643.31,101.4V173.8M645.00,134.6V162.7M646.70,138.0V159.4M648.40,135.3V156.0M650.09,125.9V152.0M651.79,116.4V149.1M653.48,106.8V123.4M655.18,102.7V110.6M656.87,103.9V110.9M658.57,109.6V113.7M660.26,112.7V116.8M661.96,113.0V119.3M663.65,112.3V127.3M665.35,113.7V134.1M667.04,122.9V132.3M668.74,124.3V130.4M670.43,123.2V129.4M672.12,118.2V128.8M673.82,111.5V130.0M675.52,109.4V124.4M677.21,108.2V120.9M678.91,117.7V129.7M680.60,121.6V138.2M682.30,122.9V137.1M683.99,124.0V140.5M685.69,124.6V223.0M687.38,186.0V206.0M689.08,177.7V189.0M690.77,170.9V185.5M692.47,165.4V179.7M694.16,160.0V177.2M695.86,169.6V181.8M697.55,172.3V177.8M699.25,170.9V181.8M700.94,175.5V183.2M702.64,179.1V183.9M704.33,180.5V187.6M706.03,179.6V192.1M707.72,175.0V187.3M709.42,170.9V176.4M711.11,169.6V174.5M712.81,169.0V173.2M714.50,167.4V172.4M716.20,161.7V170.1M717.89,140.4V176.0M719.59,143.0V170.4M721.28,154.6V175.0M722.98,146.2V162.7M724.67,140.9V153.9M726.37,138.6V149.4M728.06,130.5V148.1M729.75,129.4V158.7M731.45,142.0V165.0M733.15,159.1V170.0M734.84,161.6V176.0M736.54,160.8V176.2M738.23,169.2V176.4M739.93,165.9V176.0M741.62,163.0V176.0M743.32,165.0V176.0M745.01,164.0V176.0M746.71,166.3V176.0M748.40,168.8V176.0M750.10,168.2V176.0M751.79,166.1V176.1M753.49,164.9V176.3M755.18,163.7V176.8M756.88,161.9V180.0M758.57,157.2V176.0M760.27,138.9V160.0M761.96,135.2V158.2M763.66,141.2V159.8M765.35,142.0V162.0M767.05,145.6V161.3M768.74,144.1V160.2M770.44,135.7V164.9M772.13,160.8V171.6M773.83,162.9V177.5M775.52,167.1V181.0M777.22,170.0V179.1M778.91,170.9V180.0M780.61,169.2V180.0M782.30,165.0V180.0M784.00,170.3V179.7M785.69,171.2V179.1M787.39,170.3V178.5M789.08,169.7V178.0M790.78,168.6V174.1M792.47,167.6V171.7" stroke="#5c5c5c" stroke-width="0.8" fill="none"/><path d="M16.16,317.8V323.2M17.86,316.3V317.8M26.33,321.6V338.5M38.20,372.2V379.9M39.89,351.7V372.2M43.28,344.5V363.5M44.98,344.1V345.0M51.76,341.7V347.1M53.45,340.4V341.7M55.15,339.9V340.8M56.84,336.5V340.2M60.23,340.0V341.2M67.01,345.1V349.7M68.70,339.0V345.1M73.79,337.6V340.7M77.18,332.9V342.1M78.88,326.2V332.9M82.27,328.2V330.2M85.66,322.7V328.9M87.35,319.1V322.7M90.74,315.6V320.4M92.44,309.3V315.6M94.13,305.2V309.3M95.83,299.0V305.2M97.52,297.2V299.0M99.22,296.6V297.5M104.30,292.1V304.1M106.00,279.3V292.1M107.69,262.9V279.3M109.39,257.6V262.9M111.08,243.8V256.0M112.77,242.6V243.8M114.47,240.5V242.6M116.16,232.5V240.5M117.86,224.0V232.5M119.55,220.2V224.0M129.72,260.8V262.0M136.50,266.7V268.0M139.90,266.4V270.4M141.59,264.5V266.4M143.28,257.1V264.2M144.98,249.0V257.1M146.68,222.0V254.0M148.37,218.0V222.0M150.06,211.0V218.0M151.76,209.2V211.0M155.15,207.8V219.7M167.01,227.6V228.5M168.71,226.4V227.9M170.41,225.9V226.8M172.10,225.5V226.4M173.79,221.8V225.6M175.49,219.9V221.8M177.19,214.4V219.9M178.88,212.3V214.4M180.57,205.6V211.7M189.05,217.4V219.5M194.13,241.5V242.5M197.53,236.6V245.8M200.91,235.0V236.7M207.69,246.5V249.5M209.39,242.8V246.5M211.09,242.0V242.9M212.78,241.7V242.6M216.17,244.1V245.4M217.87,243.1V244.1M219.56,237.2V243.1M221.25,232.5V237.2M222.95,231.6V232.5M224.65,226.9V231.6M231.43,254.7V265.7M234.81,253.9V261.7M239.90,253.2V274.8M241.59,251.6V253.2M244.99,251.7V252.9M246.68,247.1V251.7M248.38,245.5V247.1M250.07,240.2V245.5M251.77,232.1V240.2M253.46,231.2V232.1M255.16,226.4V231.2M265.33,244.5V246.1M270.41,251.4V259.6M273.80,250.9V257.3M277.19,254.2V256.5M278.89,237.7V254.2M280.58,197.0V256.0M290.75,228.4V234.4M292.45,227.7V228.6M294.14,226.0V227.9M300.92,241.4V249.6M302.62,238.2V241.4M307.70,237.0V241.8M309.40,232.2V237.0M311.09,209.8V232.2M312.79,193.0V209.8M314.48,189.0V193.0M316.18,179.4V189.0M317.87,174.3V179.4M326.35,191.7V198.1M328.04,191.0V191.9M329.74,190.1V191.2M334.82,193.1V195.4M336.52,188.0V193.1M338.21,185.3V188.0M339.91,178.4V184.6M341.60,174.3V177.8M343.30,173.8V174.7M358.55,226.1V228.5M360.25,222.1V226.1M361.94,201.1V222.1M363.64,200.2V201.1M372.11,208.3V209.2M373.81,205.5V208.7M375.50,203.9V205.5M377.20,197.8V203.3M378.89,196.8V197.8M380.59,194.5V196.8M382.28,189.3V194.5M385.67,188.2V189.8M387.37,184.3V188.2M389.06,182.8V184.3M392.45,186.6V193.0M394.15,179.6V186.6M397.54,180.2V181.1M406.01,202.4V203.5M407.71,199.2V202.4M409.40,133.4V198.6M411.10,110.0V204.0M416.18,116.2V117.1M417.88,111.7V116.3M419.57,110.2V111.7M421.27,104.0V110.2M424.66,108.9V116.5M426.35,107.8V108.9M431.44,104.8V113.5M439.91,139.0V143.7M441.61,129.1V139.0M445.00,135.9V137.2M446.69,132.7V135.9M448.39,131.8V132.7M450.08,126.8V131.8M451.78,118.9V126.1M453.47,108.3V118.0M455.17,105.8V108.2M460.25,105.5V106.8M463.64,104.8V108.1M465.34,103.7V104.8M467.03,89.6V102.7M468.73,83.5V89.6M472.12,78.4V85.0M480.59,118.8V119.7M485.68,108.3V129.8M487.37,107.8V108.7M490.76,106.5V112.6M492.46,102.8V106.5M499.24,106.3V111.3M500.93,101.9V106.3M502.63,95.9V101.9M504.32,93.7V95.9M509.41,95.5V99.2M511.10,94.0V95.5M512.79,90.8V94.0M514.49,82.8V90.8M516.19,62.2V81.0M517.88,49.4V59.9M521.27,57.3V64.4M522.97,45.9V57.3M524.66,36.0V45.9M526.36,34.1V36.0M533.13,51.7V52.6M534.83,47.8V52.0M538.22,49.2V51.4M539.92,47.4V49.2M543.31,49.0V49.9M545.00,44.8V49.1M556.87,75.6V88.3M561.95,73.1V78.5M563.65,69.2V73.1M567.04,72.5V83.9M568.73,71.5V72.5M578.90,108.6V110.2M582.29,118.1V119.0M583.99,113.4V118.4M585.68,109.6V113.4M587.38,106.2V109.6M589.07,102.5V106.2M592.46,100.6V104.2M595.85,95.9V103.3M599.24,91.0V99.7M600.94,88.1V91.0M609.41,135.0V150.0M611.11,124.2V135.0M612.80,123.3V124.2M614.50,121.3V123.3M617.88,123.2V125.9M621.28,119.8V126.4M622.97,117.3V119.8M624.67,116.6V117.5M628.06,118.9V121.9M629.75,117.8V118.9M633.14,118.6V122.6M634.84,112.6V118.6M636.53,105.5V112.6M638.23,102.5V105.5M643.31,144.9V165.0M648.40,136.9V149.4M650.09,132.8V136.9M651.79,119.0V132.8M653.48,108.1V119.0M655.18,105.0V108.1M668.74,124.8V129.2M672.12,119.9V125.9M673.82,116.8V119.9M687.38,190.0V204.0M689.08,181.6V188.4M690.77,174.6V181.6M692.47,170.3V174.6M695.86,174.2V175.1M697.55,172.9V174.4M706.03,180.6V183.7M707.72,176.0V180.6M709.42,173.2V176.0M711.11,172.2V173.2M712.81,170.5V172.2M714.50,167.8V170.5M716.20,162.4V167.8M719.59,161.8V169.1M721.28,156.2V161.8M722.98,147.5V156.2M724.67,143.6V147.5M726.37,139.5V143.6M736.54,171.8V173.5M738.23,170.0V171.8M739.93,166.7V170.0M746.71,170.6V171.5M750.10,168.8V172.1M751.79,168.3V169.2M753.49,166.5V168.7M756.88,163.3V169.7M758.57,158.7V163.3M760.27,143.6V158.7M768.74,153.5V155.0M778.91,171.9V178.4M784.00,172.6V175.9M787.39,175.8V176.7M789.08,171.9V176.1M790.78,170.3V171.9" stroke="#7a7a7a" stroke-width="1.7" fill="none"/><path d="M2.60,278.8V284.0M4.29,284.0V291.5M5.99,291.5V300.6M7.69,300.2V301.1M9.38,300.8V305.5M11.07,305.5V309.8M12.77,310.8V319.6M14.46,319.6V323.2M19.55,316.1V317.0M21.25,316.8V321.6M22.94,321.6V328.5M24.64,328.5V338.5M28.03,321.6V323.0M29.72,323.0V333.3M31.42,333.3V343.9M33.11,343.9V350.2M34.80,350.2V363.3M36.50,347.0V381.0M41.59,351.7V363.5M46.67,344.3V345.2M48.37,345.0V346.6M50.06,346.4V347.3M58.54,336.5V341.2M61.93,340.0V343.4M63.62,343.4V344.3M65.31,344.3V349.7M70.40,338.6V339.5M72.09,339.2V340.7M75.48,337.6V342.1M80.57,326.2V330.2M83.96,328.1V329.0M89.05,319.1V320.4M100.91,296.9V302.6M102.61,302.6V304.1M121.25,220.2V231.6M122.94,232.7V240.4M124.64,240.4V251.1M126.33,252.3V259.9M128.03,259.9V262.0M131.42,260.5V261.4M133.12,261.1V264.1M134.81,264.1V268.0M138.20,266.7V270.4M153.46,209.2V219.7M156.84,207.6V208.5M158.54,208.4V209.7M160.24,209.7V211.4M161.93,211.4V214.7M163.62,214.7V223.1M165.32,223.1V228.2M182.27,205.4V206.3M183.97,205.7V206.6M185.66,206.3V209.7M187.35,209.7V219.5M190.75,217.4V229.0M192.44,229.0V242.5M195.83,241.5V245.8M199.22,236.2V237.1M202.61,235.0V243.0M204.31,243.0V248.3M206.00,248.3V249.5M214.47,242.1V245.4M226.34,226.9V232.0M228.03,232.0V239.9M229.73,231.0V265.7M233.12,254.7V261.7M236.51,253.9V274.1M238.21,274.0V274.9M243.29,251.6V252.9M256.85,226.4V231.1M258.55,231.1V237.0M260.24,237.0V239.4M261.94,239.4V242.8M263.63,242.8V246.1M267.02,244.5V256.3M268.72,256.3V259.6M272.11,251.4V257.3M275.50,250.9V256.5M282.28,197.0V209.4M283.97,209.4V215.1M285.67,215.1V217.9M287.36,217.9V224.6M289.06,224.6V234.4M295.84,226.0V230.8M297.53,230.8V239.5M299.23,239.5V249.6M304.31,238.2V240.0M306.01,240.0V241.8M319.57,174.3V179.3M321.26,179.3V185.6M322.96,185.6V193.4M324.65,193.4V198.1M331.43,190.1V192.4M333.13,192.4V195.4M344.99,174.2V179.6M346.69,179.6V185.1M348.38,185.1V186.7M350.08,186.7V195.8M351.77,195.8V200.0M353.47,200.0V206.3M355.16,206.3V216.3M356.86,216.4V228.5M365.33,200.3V203.7M367.03,203.3V204.2M368.72,203.4V204.3M370.42,203.9V208.7M383.98,189.1V190.0M390.76,182.8V193.0M395.84,179.6V181.1M399.23,180.3V183.7M400.93,183.7V191.8M402.62,191.8V196.2M404.32,196.2V203.5M412.79,110.0V115.3M414.49,115.3V117.0M422.96,104.0V116.5M428.05,107.8V109.3M429.74,109.3V113.5M433.13,104.8V107.4M434.83,107.4V109.5M436.52,95.5V136.0M438.22,136.0V143.7M443.30,129.1V137.2M456.86,105.4V106.3M458.56,105.9V106.8M461.95,105.5V108.1M470.42,83.5V85.0M473.81,58.0V100.0M475.51,100.0V109.2M477.20,109.2V113.3M478.90,113.3V119.3M482.29,119.2V122.6M483.98,118.0V170.0M489.07,108.3V112.6M494.15,102.5V103.4M495.85,103.1V110.9M497.54,110.6V111.5M506.02,93.7V97.9M507.71,97.9V99.2M519.58,49.4V64.4M528.05,34.1V35.4M529.75,35.4V39.4M531.44,39.4V52.3M536.53,47.8V51.4M541.61,47.4V49.7M546.70,44.8V46.1M548.39,46.1V48.4M550.09,48.4V51.2M551.78,51.2V56.5M553.48,58.4V80.8M555.17,80.8V88.3M558.56,75.6V77.1M560.25,77.1V78.5M565.34,69.2V83.9M570.43,71.5V78.4M572.12,79.6V92.1M573.82,93.8V107.1M575.51,107.1V109.0M577.21,109.0V110.2M580.60,108.6V118.6M590.77,102.5V104.2M594.16,100.6V103.3M597.55,95.9V99.7M602.63,88.1V101.1M604.33,101.1V106.6M606.02,106.6V117.1M607.72,105.0V150.0M616.19,121.3V125.9M619.58,123.2V126.4M626.36,116.8V121.9M631.45,117.8V122.6M639.92,102.5V107.6M641.62,101.0V165.0M645.00,144.9V145.8M646.70,145.8V149.4M656.87,105.0V110.3M658.57,110.3V113.4M660.26,113.4V116.5M661.96,116.5V118.8M663.65,118.7V119.6M665.35,119.5V127.5M667.04,127.5V129.2M670.43,124.8V125.9M675.52,116.7V117.6M677.21,117.5V119.9M678.91,119.9V128.7M680.60,128.7V131.9M682.30,131.9V136.0M683.99,136.0V139.2M685.69,126.0V205.0M694.16,170.3V174.9M699.25,172.9V177.3M700.94,177.3V180.0M702.64,180.0V183.5M704.33,183.2V184.1M717.89,143.0V173.0M728.06,139.5V146.7M729.75,146.7V156.4M731.45,156.4V163.2M733.15,163.2V166.2M734.84,166.2V173.5M741.62,166.7V169.6M743.32,169.2V170.1M745.01,169.8V171.2M748.40,170.9V172.1M755.18,166.5V169.7M761.96,143.6V147.0M763.66,147.0V153.2M765.35,153.0V153.9M767.05,153.8V155.0M770.44,153.5V162.6M772.13,162.6V170.7M773.83,170.7V173.0M775.52,172.8V173.7M777.22,173.4V178.4M780.61,171.9V174.9M782.30,174.9V175.9M785.69,172.6V176.4M792.47,170.0V170.9" stroke="#101010" stroke-width="1.35" fill="none"/><path d="M2,305.7H6M10,301.4H46.4M49,352.1H86.6M89,319.5H128M130.7,263.5H168.2M174.4,225.7H209.1M216,245.2H250.5M258.7,230.8H288.7M295.5,225.7H331M334.6,197.5H371.4M374.1,211.6H412.3M414.3,119.1H453.2M457.3,105.2H494.1M496.9,108.5H534M538.2,48.2H575.1M577.7,108.5H615.9M619.3,129.1H656.9M661,115H697.3M699.6,177.1H737.7M741.4,162.4H778.5M782.2,170.3H792.5" stroke="#262626" stroke-width="1.15" fill="none"/><g fill="#6e6e6e" stroke="none"><path d="M814.83,150.61 L846.70,56.10 L844.90,55.50 L814.17,150.39 Z"/><path d="M846.13,55.91 L859.52,15.60 L858.28,15.20 L845.47,55.69 Z"/><path d="M814.19,150.66 L832.36,186.05 L834.04,185.15 L814.81,150.34 Z"/><path d="M832.89,185.76 L850.96,221.84 L852.64,220.96 L833.51,185.44 Z"/><path d="M845.8,55.8 L846.1,61.2 L844.5,59.6 L842.3,59.9 Z"/><path d="M858.9,15.4 L859.3,20.8 L857.7,19.2 L855.5,19.5 Z"/><path d="M833.2,185.6 L829.1,182.1 L831.3,182.1 L832.6,180.2 Z"/><path d="M851.8,221.4 L847.7,217.9 L850.0,217.9 L851.3,216.0 Z"/></g></g><path d="M791.8,2 L797.2,2 L794.5,4.6 Z" fill="#909090"/><rect x="2" y="402.8" width="922.5" height="1.1" fill="#5a5a5a"/><rect x="924" y="2" width="1" height="521" fill="#8a8a8a"/><rect x="2" y="522" width="923" height="1" fill="#8a8a8a"/><rect x="955" y="2" width="1" height="533" fill="#dde2e6"/><rect x="2" y="534" width="954" height="1" fill="#dde2e6"/><g clip-path="url(#cd)"><path d="M2.60,475.6V464.0M4.29,475.6V465.1M5.99,475.6V467.6M7.69,475.6V470.4M9.38,475.6V473.4M11.07,475.6V478.5M12.77,475.6V482.8M14.46,475.6V486.5M16.16,475.6V489.0M17.86,475.6V489.0M19.55,475.6V489.0M21.25,475.6V491.6M22.94,475.6V494.7M24.64,475.6V497.4M26.33,475.6V495.7M28.03,475.6V498.1M29.72,475.6V497.7M31.42,475.6V498.1M33.11,475.6V501.5M34.80,475.6V505.0M36.50,475.6V510.8M38.20,475.6V514.8M39.89,475.6V513.6M41.59,475.6V516.5M43.28,475.6V515.0M44.98,475.6V511.1M46.67,475.6V507.7M48.37,475.6V504.9M50.06,475.6V502.8M51.76,475.6V500.1M53.45,475.6V497.1M55.15,475.6V493.8M56.84,475.6V490.5M58.54,475.6V488.8M60.23,475.6V487.4M61.93,475.6V486.9M63.62,475.6V488.3M65.31,475.6V488.1M67.01,475.6V486.5M68.70,475.6V484.8M70.40,475.6V483.2M72.09,475.6V481.5M73.79,475.6V479.7M75.48,475.6V478.0M77.18,475.6V478.8M78.88,475.6V473.5M80.57,475.6V471.4M82.27,475.6V469.7M83.96,475.6V468.0M85.66,475.6V467.0M87.35,475.6V466.1M89.05,475.6V465.3M90.74,475.6V464.0M92.44,475.6V460.7M94.13,475.6V457.7M95.83,475.6V455.4M97.52,475.6V452.6M99.22,475.6V451.2M100.91,475.6V450.9M102.61,475.6V450.6M104.30,475.6V450.4M106.00,475.6V448.5M107.69,475.6V443.6M109.39,475.6V435.7M111.08,475.6V429.3M112.77,475.6V426.9M114.47,475.6V423.8M116.16,475.6V418.9M117.86,475.6V414.1M119.55,475.6V410.3M121.25,475.6V412.6M122.94,475.6V414.9M124.64,475.6V420.5M126.33,475.6V426.0M128.03,475.6V430.7M129.72,475.6V435.3M131.42,475.6V439.4M133.12,475.6V443.1M134.81,475.6V448.6M136.50,475.6V454.1M138.20,475.6V459.3M139.90,475.6V461.4M141.59,475.6V462.5M143.28,475.6V461.6M144.98,475.6V460.6M146.68,475.6V457.5M148.37,475.6V453.0M150.06,475.6V448.5M151.76,475.6V444.0M153.46,475.6V440.0M155.15,475.6V438.7M156.84,475.6V437.3M158.54,475.6V436.3M160.24,475.6V435.8M161.93,475.6V435.4M163.62,475.6V435.4M165.32,475.6V436.6M167.01,475.6V437.7M168.71,475.6V441.1M170.41,475.6V444.6M172.10,475.6V448.0M173.79,475.6V450.8M175.49,475.6V452.5M177.19,475.6V454.1M178.88,475.6V454.6M180.57,475.6V455.1M182.27,475.6V453.5M183.97,475.6V453.1M185.66,475.6V453.9M187.35,475.6V454.9M189.05,475.6V455.9M190.75,475.6V459.0M192.44,475.6V464.7M194.13,475.6V469.5M195.83,475.6V473.4M199.22,475.6V477.6M200.91,475.6V477.6M202.61,475.6V478.9M204.31,475.6V483.1M206.00,475.6V487.5M207.69,475.6V487.5M209.39,475.6V487.5M211.09,475.6V487.5M212.78,475.6V487.6M214.47,475.6V488.0M216.17,475.6V488.4M217.87,475.6V487.4M219.56,475.6V486.0M221.25,475.6V485.9M222.95,475.6V483.7M224.65,475.6V480.3M226.34,475.6V477.6M228.03,475.6V477.6M229.73,475.6V483.3M231.43,475.6V484.9M233.12,475.6V488.0M234.81,475.6V491.9M236.51,475.6V495.3M238.21,475.6V494.7M239.90,475.6V494.0M241.59,475.6V494.9M243.29,475.6V494.7M244.99,475.6V492.9M246.68,475.6V489.6M248.38,475.6V486.2M250.07,475.6V482.9M251.77,475.6V479.5M253.46,475.6V474.3M255.16,475.6V471.6M256.85,475.6V469.8M258.55,475.6V469.7M260.24,475.6V471.0M261.94,475.6V472.3M263.63,475.6V474.6M267.02,475.6V477.0M268.72,475.6V478.4M270.41,475.6V482.2M272.11,475.6V483.0M273.80,475.6V483.0M275.50,475.6V484.0M277.19,475.6V485.0M278.89,475.6V485.0M280.58,475.6V469.0M282.28,475.6V462.8M283.97,475.6V459.5M285.67,475.6V456.2M287.36,475.6V456.2M289.06,475.6V460.0M290.75,475.6V460.5M292.45,475.6V460.7M294.14,475.6V460.7M295.84,475.6V461.4M297.53,475.6V464.5M299.23,475.6V469.6M300.92,475.6V470.4M302.62,475.6V471.1M304.31,475.6V471.8M306.01,475.6V473.4M307.70,475.6V475.2M309.40,475.6V475.2M311.09,475.6V470.9M312.79,475.6V465.1M314.48,475.6V459.3M316.18,475.6V454.3M317.87,475.6V449.8M319.57,475.6V445.4M321.26,475.6V441.2M322.96,475.6V441.8M324.65,475.6V443.0M326.35,475.6V443.7M328.04,475.6V443.7M329.74,475.6V445.1M331.43,475.6V446.6M333.13,475.6V448.1M334.82,475.6V449.7M336.52,475.6V450.8M338.21,475.6V451.3M339.91,475.6V449.5M341.60,475.6V447.8M343.30,475.6V448.3M344.99,475.6V449.0M346.69,475.6V449.7M348.38,475.6V451.2M350.08,475.6V455.4M351.77,475.6V460.5M353.47,475.6V466.6M355.16,475.6V472.8M356.86,475.6V480.8M358.55,475.6V485.5M360.25,475.6V487.4M361.94,475.6V484.0M363.64,475.6V481.5M365.33,475.6V481.0M367.03,475.6V480.6M368.72,475.6V480.2M370.42,475.6V479.7M372.11,475.6V479.3M373.81,475.6V478.9M375.50,475.6V478.5M377.20,475.6V478.0M378.89,475.6V476.9M380.59,475.6V472.9M382.28,475.6V471.8M383.98,475.6V470.8M385.67,475.6V469.8M387.37,475.6V468.9M389.06,475.6V468.2M390.76,475.6V467.5M392.45,475.6V466.8M394.15,475.6V465.6M395.84,475.6V463.9M397.54,475.6V463.0M399.23,475.6V463.5M400.93,475.6V464.6M402.62,475.6V469.1M404.32,475.6V472.9M406.01,475.6V473.4M407.71,475.6V473.8M409.40,475.6V459.1M411.10,475.6V449.3M412.79,475.6V440.4M414.49,475.6V433.3M416.18,475.6V427.4M417.88,475.6V425.1M419.57,475.6V422.9M421.27,475.6V421.0M422.96,475.6V420.0M424.66,475.6V419.0M426.35,475.6V419.1M428.05,475.6V419.4M429.74,475.6V419.8M431.44,475.6V420.9M433.13,475.6V423.6M434.83,475.6V426.0M436.52,475.6V427.9M438.22,475.6V429.9M439.91,475.6V439.2M441.61,475.6V446.5M443.30,475.6V449.6M445.00,475.6V452.7M446.69,475.6V455.6M448.39,475.6V458.5M450.08,475.6V461.4M451.78,475.6V461.2M453.47,475.6V458.0M455.17,475.6V455.1M456.86,475.6V454.1M458.56,475.6V453.0M460.25,475.6V452.0M461.95,475.6V451.5M463.64,475.6V451.5M465.34,475.6V451.5M467.03,475.6V451.1M468.73,475.6V450.3M470.42,475.6V449.4M472.12,475.6V444.8M473.81,475.6V442.7M475.51,475.6V447.0M477.20,475.6V449.2M478.90,475.6V451.3M480.59,475.6V457.2M482.29,475.6V471.5M483.98,475.6V480.3M485.68,475.6V480.3M487.37,475.6V474.4M489.07,475.6V473.4M490.76,475.6V472.6M492.46,475.6V471.7M494.15,475.6V471.3M495.85,475.6V471.0M497.54,475.6V470.7M499.24,475.6V470.4M500.93,475.6V470.1M502.63,475.6V469.8M504.32,475.6V469.2M506.02,475.6V467.8M507.71,475.6V466.4M509.41,475.6V465.2M511.10,475.6V464.8M512.79,475.6V464.3M514.49,475.6V462.5M516.19,475.6V457.2M517.88,475.6V453.0M519.58,475.6V449.2M521.27,475.6V446.2M522.97,475.6V443.2M524.66,475.6V439.5M526.36,475.6V434.5M528.05,475.6V431.2M529.75,475.6V428.9M531.44,475.6V429.5M533.13,475.6V431.6M534.83,475.6V434.3M536.53,475.6V436.1M538.22,475.6V437.5M539.92,475.6V438.8M541.61,475.6V440.0M543.31,475.6V441.2M545.00,475.6V442.4M546.70,475.6V443.9M548.39,475.6V446.2M550.09,475.6V450.3M551.78,475.6V454.5M553.48,475.6V458.9M555.17,475.6V466.7M556.87,475.6V477.9M558.56,475.6V480.7M560.25,475.6V481.1M561.95,475.6V481.5M563.65,475.6V481.9M565.34,475.6V482.3M567.04,475.6V482.7M568.73,475.6V483.5M570.43,475.6V484.9M572.12,475.6V487.3M573.82,475.6V490.1M575.51,475.6V492.9M577.21,475.6V498.0M578.90,475.6V502.0M580.60,475.6V505.1M582.29,475.6V508.1M583.99,475.6V511.1M585.68,475.6V511.3M587.38,475.6V510.7M589.07,475.6V508.3M590.77,475.6V504.9M592.46,475.6V501.5M594.16,475.6V498.5M595.85,475.6V495.6M597.55,475.6V494.0M599.24,475.6V492.5M600.94,475.6V491.0M602.63,475.6V489.5M604.33,475.6V488.0M606.02,475.6V491.0M607.72,475.6V494.6M609.41,475.6V498.8M611.11,475.6V501.6M612.80,475.6V501.2M614.50,475.6V500.8M616.19,475.6V500.3M617.88,475.6V499.7M619.58,475.6V499.2M621.28,475.6V498.6M622.97,475.6V498.0M624.67,475.6V496.9M626.36,475.6V495.8M628.06,475.6V494.7M629.75,475.6V493.3M631.45,475.6V491.4M633.14,475.6V489.5M634.84,475.6V487.6M636.53,475.6V485.3M638.23,475.6V482.3M639.92,475.6V478.2M641.62,475.6V484.1M643.31,475.6V489.9M645.00,475.6V492.5M646.70,475.6V494.8M648.40,475.6V496.6M650.09,475.6V494.9M651.79,475.6V493.1M653.48,475.6V489.2M655.18,475.6V485.1M656.87,475.6V480.9M658.57,475.6V474.4M660.26,475.6V473.0M661.96,475.6V472.9M663.65,475.6V472.8M665.35,475.6V477.9M667.04,475.6V478.3M668.74,475.6V478.7M670.43,475.6V479.1M672.12,475.6V479.5M673.82,475.6V479.8M675.52,475.6V480.2M677.21,475.6V479.6M678.91,475.6V478.6M680.60,475.6V478.3M682.30,475.6V479.1M683.99,475.6V480.0M685.69,475.6V491.7M687.38,475.6V499.9M689.08,475.6V505.4M690.77,475.6V511.0M692.47,475.6V512.4M694.16,475.6V513.2M695.86,475.6V514.0M697.55,475.6V514.6M699.25,475.6V515.2M700.94,475.6V515.0M702.64,475.6V514.2M704.33,475.6V513.3M706.03,475.6V512.5M707.72,475.6V511.6M709.42,475.6V510.8M711.11,475.6V508.3M712.81,475.6V504.9M714.50,475.6V501.6M716.20,475.6V499.0M717.89,475.6V496.8M719.59,475.6V493.6M721.28,475.6V488.4M722.98,475.6V483.2M724.67,475.6V473.9M726.37,475.6V469.5M728.06,475.6V468.4M729.75,475.6V468.3M731.45,475.6V469.5M733.15,475.6V472.1M734.84,475.6V477.1M736.54,475.6V478.8M738.23,475.6V480.0M739.93,475.6V481.2M741.62,475.6V482.2M743.32,475.6V482.7M745.01,475.6V483.3M746.71,475.6V483.8M748.40,475.6V483.8M750.10,475.6V483.2M751.79,475.6V482.5M753.49,475.6V481.7M755.18,475.6V480.5M756.88,475.6V479.3M758.57,475.6V478.1M760.27,475.6V468.9M761.96,475.6V468.3M763.66,475.6V467.7M765.35,475.6V467.1M767.05,475.6V466.5M768.74,475.6V467.2M770.44,475.6V468.0M772.13,475.6V468.7M773.83,475.6V471.9M775.52,475.6V477.1M777.22,475.6V480.7M778.91,475.6V481.6M780.61,475.6V482.6M782.30,475.6V483.6M784.00,475.6V484.5M785.69,475.6V485.4M787.39,475.6V486.3M789.08,475.6V485.6M790.78,475.6V484.0" stroke="#858585" stroke-width="1.25" fill="none"/><path d="M0.0,468.4 C0.4,468.4 0.8,468.4 2.3,468.4 C3.8,468.4 7.5,468.0 9.2,468.4 C10.9,468.8 11.0,469.4 12.3,470.7 C13.6,472.0 15.4,473.7 16.9,476.0 C18.4,478.3 20.0,481.9 21.5,484.5 C23.0,487.1 24.6,489.6 26.1,491.4 C27.6,493.2 28.9,493.5 30.7,495.2 C32.5,496.9 35.0,499.2 36.8,501.3 C38.6,503.4 39.9,505.8 41.4,507.5 C42.9,509.2 44.5,510.7 46.0,511.3 C47.5,511.9 49.3,511.9 50.6,511.3 C51.9,510.7 52.4,509.2 53.7,507.5 C55.0,505.8 56.8,503.7 58.3,501.3 C59.8,498.9 61.4,494.9 62.9,492.9 C64.4,490.8 65.7,490.3 67.5,489.0 C69.3,487.7 71.5,486.5 73.6,485.2 C75.6,483.9 77.8,483.0 79.8,481.4 C81.8,479.8 83.9,477.6 85.9,475.3 C87.9,473.0 90.0,470.2 92.0,467.6 C94.0,465.0 96.0,462.4 98.2,459.9 C100.4,457.4 102.5,456.8 105.4,452.7 C108.3,448.6 112.6,440.5 115.5,435.1 C118.4,429.7 120.9,423.0 123.0,420.1 C125.1,417.2 126.3,416.8 128.0,417.6 C129.7,418.4 131.2,420.9 133.1,425.1 C135.0,429.3 137.2,437.7 139.3,442.7 C141.4,447.7 143.3,453.5 145.6,455.2 C147.9,456.9 150.7,454.8 153.2,452.7 C155.7,450.6 158.6,445.2 160.7,442.7 C162.8,440.2 163.6,437.7 165.7,437.7 C167.8,437.7 170.7,440.4 173.2,442.7 C175.7,445.0 177.9,449.4 180.8,451.5 C183.7,453.6 187.9,453.3 190.8,455.2 C193.7,457.1 195.8,459.9 198.3,462.8 C200.8,465.7 203.4,469.5 205.9,472.8 C208.4,476.1 211.3,480.4 213.4,482.9 C215.5,485.4 216.3,487.7 218.4,487.9 C220.5,488.1 223.8,484.9 226.0,484.1 C228.2,483.3 229.6,482.6 231.3,483.0 C233.1,483.4 234.8,485.1 236.5,486.3 C238.2,487.5 240.2,489.1 241.8,490.2 C243.5,491.2 245.0,492.5 246.4,492.6 C247.8,492.7 249.0,491.9 250.3,490.9 C251.6,489.8 252.9,487.9 254.2,486.3 C255.5,484.7 256.7,483.2 258.1,481.1 C259.5,479.0 261.4,475.2 262.7,473.8 C264.0,472.4 264.9,472.5 266.0,472.5 C267.1,472.5 268.1,473.1 269.3,473.8 C270.5,474.5 272.0,475.6 273.2,476.5 C274.4,477.4 275.5,478.3 276.5,479.1 C277.5,479.9 278.0,481.2 279.1,481.1 C280.2,481.0 281.8,479.7 283.0,478.4 C284.2,477.1 285.2,474.9 286.3,473.2 C287.4,471.5 288.3,470.1 289.6,468.0 C290.9,465.9 292.9,462.1 294.1,460.7 C295.3,459.3 295.7,459.3 296.8,459.5 C297.9,459.7 299.4,461.0 300.7,462.0 C302.0,463.0 303.3,464.2 304.6,465.3 C305.9,466.4 307.3,467.5 308.5,468.6 C309.7,469.7 310.8,471.6 311.8,471.9 C312.8,472.2 313.3,471.7 314.4,470.6 C315.5,469.5 317.2,467.4 318.4,465.3 C319.6,463.2 320.5,460.3 321.6,458.1 C322.7,455.9 323.8,454.1 324.9,452.2 C326.0,450.3 327.3,448.2 328.2,447.0 C329.1,445.8 328.3,445.1 330.4,445.2 C332.4,445.3 337.1,446.2 340.5,447.7 C343.9,449.2 347.6,451.1 350.5,454.0 C353.4,456.9 355.5,461.1 358.0,465.3 C360.5,469.5 363.3,476.2 365.6,479.1 C367.9,482.0 369.4,482.9 371.9,482.9 C374.4,482.9 377.5,481.0 380.6,479.1 C383.7,477.2 387.4,473.9 390.7,471.6 C394.0,469.3 397.8,465.9 400.7,465.3 C403.6,464.7 405.8,470.7 408.3,467.8 C410.8,464.9 413.3,454.0 415.8,447.7 C418.3,441.4 420.8,434.7 423.3,430.1 C425.8,425.5 428.8,421.8 430.9,420.1 C433.0,418.4 433.8,418.0 435.9,420.1 C438.0,422.2 440.9,427.2 443.4,432.6 C445.9,438.0 448.4,448.5 450.9,452.7 C453.4,456.9 456.0,458.1 458.5,458.0 C461.0,457.9 463.0,453.7 466.0,452.0 C469.0,450.3 473.5,447.2 476.3,447.7 C479.1,448.2 480.5,451.8 482.6,455.2 C484.7,458.6 486.8,464.9 488.9,467.8 C491.0,470.7 492.4,472.4 495.1,472.8 C497.8,473.2 501.8,471.6 505.2,470.3 C508.6,469.1 512.3,468.0 515.2,465.3 C518.1,462.6 520.5,457.8 522.8,454.0 C525.1,450.2 526.9,446.1 529.0,442.7 C531.1,439.3 533.2,435.4 535.3,433.9 C537.4,432.4 539.1,432.2 541.6,433.9 C544.1,435.6 547.7,439.9 550.4,443.9 C553.1,447.9 555.4,452.5 557.9,457.7 C560.4,462.9 562.9,470.3 565.4,475.3 C567.9,480.3 570.5,483.9 573.0,487.9 C575.5,491.9 578.0,496.1 580.5,499.2 C583.0,502.3 585.3,505.9 588.0,506.7 C590.7,507.5 593.9,506.3 596.8,504.2 C599.7,502.1 602.9,495.6 605.6,494.1 C608.3,492.6 610.7,494.5 613.2,495.4 C615.7,496.2 618.2,498.8 620.7,499.2 C623.2,499.6 625.7,498.9 628.2,497.9 C630.7,496.8 633.2,495.0 635.7,492.9 C638.2,490.8 640.8,486.4 643.3,485.4 C645.8,484.3 648.3,486.2 650.8,486.6 C653.3,487.0 655.8,489.6 658.3,487.9 C660.8,486.2 663.4,478.5 665.9,476.6 C668.4,474.7 670.5,476.2 673.4,476.6 C676.3,477.0 680.6,476.4 683.5,479.1 C686.4,481.8 688.7,488.5 691.0,492.9 C693.3,497.3 695.1,501.8 697.5,505.4 C699.9,508.9 702.6,513.6 705.1,514.2 C707.6,514.8 710.1,512.3 712.6,509.2 C715.1,506.1 717.6,500.2 720.1,495.4 C722.6,490.6 725.2,483.9 727.7,480.3 C730.2,476.8 733.1,474.9 735.2,474.1 C737.3,473.3 737.7,473.8 740.2,475.3 C742.7,476.8 747.4,481.8 750.3,482.9 C753.2,483.9 755.3,482.9 757.8,481.6 C760.3,480.3 762.8,477.2 765.3,475.3 C767.8,473.4 770.4,470.7 772.9,470.3 C775.4,469.9 777.5,470.7 780.4,472.8 C783.3,474.9 788.7,481.2 790.4,482.9" fill="none" stroke="#f04848" stroke-width="0.8" stroke-dasharray="1.2 1.2"/></g><path d="M3.9,4.6 L7.9,4.6 L5.9,7 Z" fill="#000"/><text x="11" y="8.7" font-size="6.6" font-family="Liberation Sans, Arial, sans-serif" fill="#1a1a1a" textLength="34.5" lengthAdjust="spacingAndGlyphs">GBPUSD.s,H1</text><text x="49.8" y="8.7" font-size="6.6" font-family="Liberation Sans, Arial, sans-serif" fill="#1a1a1a" textLength="93.1" lengthAdjust="spacingAndGlyphs">1.20803 1.20828 1.20785 1.20812</text><text x="3.8" y="411.9" font-size="6.6" font-family="Liberation Sans, Arial, sans-serif" fill="#1a1a1a" textLength="99" lengthAdjust="spacingAndGlyphs">MACD(12,26,9) -0.000428 -0.000477</text><rect x="925" y="1.9" width="1.2" height="0.8" fill="#606060"/><text x="927.9" y="5.4" font-size="6.8" font-family="Liberation Sans, Arial, sans-serif" fill="#202020" textLength="21.9" lengthAdjust="spacingAndGlyphs">1.23195</text><rect x="925" y="29.5" width="1.2" height="0.8" fill="#606060"/><text x="927.9" y="33.0" font-size="6.8" font-family="Liberation Sans, Arial, sans-serif" fill="#202020" textLength="21.9" lengthAdjust="spacingAndGlyphs">1.22800</text><rect x="925" y="84.7" width="1.2" height="0.8" fill="#606060"/><text x="927.9" y="88.2" font-size="6.8" font-family="Liberation Sans, Arial, sans-serif" fill="#202020" textLength="21.9" lengthAdjust="spacingAndGlyphs">1.22010</text><rect x="925" y="112.3" width="1.2" height="0.8" fill="#606060"/><text x="927.9" y="115.8" font-size="6.8" font-family="Liberation Sans, Arial, sans-serif" fill="#202020" textLength="21.9" lengthAdjust="spacingAndGlyphs">1.21615</text><rect x="925" y="139.9" width="1.2" height="0.8" fill="#606060"/><text x="927.9" y="143.4" font-size="6.8" font-family="Liberation Sans, Arial, sans-serif" fill="#202020" textLength="21.9" lengthAdjust="spacingAndGlyphs">1.21220</text><rect x="925" y="194.8" width="1.2" height="0.8" fill="#606060"/><text x="927.9" y="198.3" font-size="6.8" font-family="Liberation Sans, Arial, sans-serif" fill="#202020" textLength="21.9" lengthAdjust="spacingAndGlyphs">1.20435</text><rect x="925" y="250.0" width="1.2" height="0.8" fill="#606060"/><text x="927.9" y="253.5" font-size="6.8" font-family="Liberation Sans, Arial, sans-serif" fill="#202020" textLength="21.9" lengthAdjust="spacingAndGlyphs">1.19645</text><rect x="925" y="277.6" width="1.2" height="0.8" fill="#606060"/><text x="927.9" y="281.1" font-size="6.8" font-family="Liberation Sans, Arial, sans-serif" fill="#202020" textLength="21.9" lengthAdjust="spacingAndGlyphs">1.19250</text><rect x="925" y="305.2" width="1.2" height="0.8" fill="#606060"/><text x="927.9" y="308.7" font-size="6.8" font-family="Liberation Sans, Arial, sans-serif" fill="#202020" textLength="21.9" lengthAdjust="spacingAndGlyphs">1.18855</text><rect x="925" y="332.8" width="1.2" height="0.8" fill="#606060"/><text x="927.9" y="336.3" font-size="6.8" font-family="Liberation Sans, Arial, sans-serif" fill="#202020" textLength="21.9" lengthAdjust="spacingAndGlyphs">1.18460</text><rect x="925" y="360.4" width="1.2" height="0.8" fill="#606060"/><text x="927.9" y="363.9" font-size="6.8" font-family="Liberation Sans, Arial, sans-serif" fill="#202020" textLength="21.9" lengthAdjust="spacingAndGlyphs">1.18065</text><rect x="925" y="388.0" width="1.2" height="0.8" fill="#606060"/><text x="927.9" y="391.5" font-size="6.8" font-family="Liberation Sans, Arial, sans-serif" fill="#202020" textLength="21.9" lengthAdjust="spacingAndGlyphs">1.17670</text><rect x="925.7" y="12.3" width="26" height="7.0" fill="#ff0000"/><text x="928" y="18.0" font-size="6.8" font-family="Liberation Sans, Arial, sans-serif" fill="#ffffff" textLength="21.7" lengthAdjust="spacingAndGlyphs">1.23017</text><rect x="925.7" y="52.6" width="26" height="7.0" fill="#ff0000"/><text x="928" y="58.3" font-size="6.8" font-family="Liberation Sans, Arial, sans-serif" fill="#ffffff" textLength="21.7" lengthAdjust="spacingAndGlyphs">1.22439</text><rect x="925.7" y="148.5" width="26" height="7.0" fill="#ff0000"/><text x="928" y="154.2" font-size="6.8" font-family="Liberation Sans, Arial, sans-serif" fill="#ffffff" textLength="21.7" lengthAdjust="spacingAndGlyphs">1.21067</text><rect x="925.7" y="165.4" width="26" height="7.0" fill="#000000"/><text x="928" y="171.1" font-size="6.8" font-family="Liberation Sans, Arial, sans-serif" fill="#ffffff" textLength="21.7" lengthAdjust="spacingAndGlyphs">1.20812</text><rect x="925.7" y="183.7" width="26" height="7.0" fill="#ff0000"/><text x="928" y="189.4" font-size="6.8" font-family="Liberation Sans, Arial, sans-serif" fill="#ffffff" textLength="21.7" lengthAdjust="spacingAndGlyphs">1.20560</text><rect x="925.7" y="218.7" width="26" height="7.0" fill="#0000ff"/><text x="928" y="224.4" font-size="6.8" font-family="Liberation Sans, Arial, sans-serif" fill="#ffffff" textLength="21.7" lengthAdjust="spacingAndGlyphs">1.20059</text><rect x="925.7" y="243.3" width="26" height="7.0" fill="#ff0000"/><text x="928" y="249.0" font-size="6.8" font-family="Liberation Sans, Arial, sans-serif" fill="#ffffff" textLength="21.7" lengthAdjust="spacingAndGlyphs">1.19706</text><rect x="925.7" y="280.3" width="26" height="7.0" fill="#ff0000"/><text x="928" y="286.0" font-size="6.8" font-family="Liberation Sans, Arial, sans-serif" fill="#ffffff" textLength="21.7" lengthAdjust="spacingAndGlyphs">1.19163</text><rect x="925.7" y="313.0" width="26" height="7.0" fill="#0000ff"/><text x="928" y="318.7" font-size="6.8" font-family="Liberation Sans, Arial, sans-serif" fill="#ffffff" textLength="21.7" lengthAdjust="spacingAndGlyphs">1.18709</text><rect x="925.7" y="325.0" width="26" height="7.0" fill="#ff0000"/><text x="928" y="330.7" font-size="6.8" font-family="Liberation Sans, Arial, sans-serif" fill="#ffffff" textLength="21.7" lengthAdjust="spacingAndGlyphs">1.18533</text><rect x="925.7" y="348.1" width="26" height="7.0" fill="#0000ff"/><text x="928" y="353.8" font-size="6.8" font-family="Liberation Sans, Arial, sans-serif" fill="#ffffff" textLength="21.7" lengthAdjust="spacingAndGlyphs">1.18207</text><rect x="925.7" y="365.6" width="26" height="7.0" fill="#0000ff"/><text x="928" y="371.3" font-size="6.8" font-family="Liberation Sans, Arial, sans-serif" fill="#ffffff" textLength="21.7" lengthAdjust="spacingAndGlyphs">1.17959</text><rect x="925.7" y="376.8" width="26" height="7.0" fill="#0000ff"/><text x="928" y="382.5" font-size="6.8" font-family="Liberation Sans, Arial, sans-serif" fill="#ffffff" textLength="21.7" lengthAdjust="spacingAndGlyphs">1.17798</text><rect x="925.7" y="387.6" width="26" height="7.0" fill="#ff0000"/><text x="928" y="393.3" font-size="6.8" font-family="Liberation Sans, Arial, sans-serif" fill="#ffffff" textLength="21.7" lengthAdjust="spacingAndGlyphs">1.17641</text><rect x="925.7" y="394.8" width="26" height="7.0" fill="#0000ff"/><text x="928" y="400.5" font-size="6.8" font-family="Liberation Sans, Arial, sans-serif" fill="#ffffff" textLength="21.7" lengthAdjust="spacingAndGlyphs">1.17533</text><text x="926.5" y="410.6" font-size="6.6" font-family="Liberation Sans, Arial, sans-serif" fill="#202020" textLength="24.9" lengthAdjust="spacingAndGlyphs">0.004151</text><text x="926.1" y="479" font-size="6.6" font-family="Liberation Sans, Arial, sans-serif" fill="#202020" textLength="12.0" lengthAdjust="spacingAndGlyphs">0.00</text><text x="925.5" y="520.5" font-size="6.6" font-family="Liberation Sans, Arial, sans-serif" fill="#202020" textLength="27.6" lengthAdjust="spacingAndGlyphs">-0.002699</text><rect x="925" y="475.8" width="1.2" height="0.8" fill="#606060"/><rect x="2.0" y="523" width="0.8" height="1.6" fill="#606060"/><text x="2.3" y="530.8" font-size="6.8" font-family="Liberation Sans, Arial, sans-serif" fill="#202020" textLength="30.0" lengthAdjust="spacingAndGlyphs">13 Jul 2022</text><rect x="56.2" y="523" width="0.8" height="1.6" fill="#606060"/><text x="56.5" y="530.8" font-size="6.8" font-family="Liberation Sans, Arial, sans-serif" fill="#202020" textLength="31.3" lengthAdjust="spacingAndGlyphs">15 Jul 04:00</text><rect x="110.5" y="523" width="0.8" height="1.6" fill="#606060"/><text x="110.8" y="530.8" font-size="6.8" font-family="Liberation Sans, Arial, sans-serif" fill="#202020" textLength="31.3" lengthAdjust="spacingAndGlyphs">18 Jul 12:00</text><rect x="164.7" y="523" width="0.8" height="1.6" fill="#606060"/><text x="165.0" y="530.8" font-size="6.8" font-family="Liberation Sans, Arial, sans-serif" fill="#202020" textLength="31.3" lengthAdjust="spacingAndGlyphs">19 Jul 20:00</text><rect x="219.0" y="523" width="0.8" height="1.6" fill="#606060"/><text x="219.3" y="530.8" font-size="6.8" font-family="Liberation Sans, Arial, sans-serif" fill="#202020" textLength="31.3" lengthAdjust="spacingAndGlyphs">21 Jul 04:00</text><rect x="273.2" y="523" width="0.8" height="1.6" fill="#606060"/><text x="273.5" y="530.8" font-size="6.8" font-family="Liberation Sans, Arial, sans-serif" fill="#202020" textLength="31.3" lengthAdjust="spacingAndGlyphs">22 Jul 12:00</text><rect x="327.4" y="523" width="0.8" height="1.6" fill="#606060"/><text x="327.7" y="530.8" font-size="6.8" font-family="Liberation Sans, Arial, sans-serif" fill="#202020" textLength="31.3" lengthAdjust="spacingAndGlyphs">25 Jul 20:00</text><rect x="381.7" y="523" width="0.8" height="1.6" fill="#606060"/><text x="382.0" y="530.8" font-size="6.8" font-family="Liberation Sans, Arial, sans-serif" fill="#202020" textLength="31.3" lengthAdjust="spacingAndGlyphs">27 Jul 04:00</text><rect x="435.9" y="523" width="0.8" height="1.6" fill="#606060"/><text x="436.2" y="530.8" font-size="6.8" font-family="Liberation Sans, Arial, sans-serif" fill="#202020" textLength="31.3" lengthAdjust="spacingAndGlyphs">28 Jul 12:00</text><rect x="490.2" y="523" width="0.8" height="1.6" fill="#606060"/><text x="490.5" y="530.8" font-size="6.8" font-family="Liberation Sans, Arial, sans-serif" fill="#202020" textLength="31.3" lengthAdjust="spacingAndGlyphs">29 Jul 20:00</text><rect x="544.4" y="523" width="0.8" height="1.6" fill="#606060"/><text x="544.7" y="530.8" font-size="6.8" font-family="Liberation Sans, Arial, sans-serif" fill="#202020" textLength="32.8" lengthAdjust="spacingAndGlyphs">2 Aug 04:00</text><rect x="598.6" y="523" width="0.8" height="1.6" fill="#606060"/><text x="598.9" y="530.8" font-size="6.8" font-family="Liberation Sans, Arial, sans-serif" fill="#202020" textLength="32.8" lengthAdjust="spacingAndGlyphs">3 Aug 12:00</text><rect x="652.9" y="523" width="0.8" height="1.6" fill="#606060"/><text x="653.2" y="530.8" font-size="6.8" font-family="Liberation Sans, Arial, sans-serif" fill="#202020" textLength="32.8" lengthAdjust="spacingAndGlyphs">4 Aug 20:00</text><rect x="707.1" y="523" width="0.8" height="1.6" fill="#606060"/><text x="707.4" y="530.8" font-size="6.8" font-family="Liberation Sans, Arial, sans-serif" fill="#202020" textLength="32.8" lengthAdjust="spacingAndGlyphs">8 Aug 04:00</text><rect x="761.4" y="523" width="0.8" height="1.6" fill="#606060"/><text x="761.7" y="530.8" font-size="6.8" font-family="Liberation Sans, Arial, sans-serif" fill="#202020" textLength="32.8" lengthAdjust="spacingAndGlyphs">9 Aug 12:00</text></svg></body></html>
